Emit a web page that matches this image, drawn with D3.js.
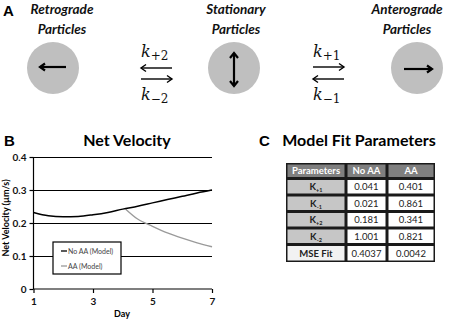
<!DOCTYPE html>
<html>
<head>
<meta charset="utf-8">
<script src="https://cdn.jsdelivr.net/npm/d3@7"></script>
<style>
  body { margin: 0; background: #fff; }
  svg { display: block; font-family: Lato, "Open Sans", sans-serif; }
</style>
</head>
<body>
<div id="chart"></div>
<script>
// panel B data
var days = [1, 1.5, 2, 2.5, 3, 3.5, 4, 4.5, 5, 5.5, 6, 6.5, 7];
var noAA = [0.232, 0.222, 0.219, 0.220, 0.225, 0.232, 0.242, 0.251, 0.261, 0.271, 0.281, 0.291, 0.300];
var aaDays = [4.1, 4.5, 5, 5.5, 6, 6.5, 7];
var aa = [0.242, 0.212, 0.190, 0.170, 0.154, 0.140, 0.128];
var yTicks = [0, 0.1, 0.2, 0.3, 0.4];
var xTicks = [1, 3, 5, 7];
var seriesNames = ["No AA (Model)", "AA (Model)"];

// panel C table
var tableHeader = ["Parameters", "No AA", "AA"];
var paramSubs = ["+1", "-1", "+2", "-2"];
var paramNoAA = ["0.041", "0.021", "0.181", "1.001"];
var paramAA = ["0.401", "0.861", "0.341", "0.821"];
var mseRow = ["MSE Fit", "0.4037", "0.0042"];

// panel A
var particleNames = [["Retrograde", "Particles"], ["Stationary", "Particles"], ["Anterograde", "Particles"]];
var rateLabels = [["+2", "-2"], ["+1", "-1"]];

var svg = d3.select("#chart").append("svg")
    .attr("width", 454)
    .attr("height", 321);

var grey = "#bfbfbf";

//---------------- panel A -----------------//
svg.append("text").attr("x", 3).attr("y", 16)
    .attr("font-size", 15).attr("font-weight", "bold")
    .attr("font-family", "Liberation Sans, Arial, sans-serif")
    .text("A");

var particleX = [{ tx: 62, cx: 53 }, { tx: 236, cx: 234 }, { tx: 407, cx: 417 }];

particleNames.forEach(function(lines, i) {
    var p = particleX[i];
    var g = svg.append("g");
    lines.forEach(function(l, j) {
        g.append("text")
            .attr("x", p.tx).attr("y", 14 + j * 20)
            .attr("text-anchor", "middle")
            .attr("font-size", 13.5).attr("font-weight", "bold").attr("font-style", "italic")
            .attr("fill", "#111")
            .text(l);
    });
    g.append("circle").attr("cx", p.cx).attr("cy", 68).attr("r", 26).attr("fill", grey);
});

// arrow with open head
function arrow(x1, x2, y, dir, head) {
    var g = svg.append("g").attr("stroke", "#000").attr("fill", "none")
        .attr("stroke-width", head ? 2.2 : 1.4);
    g.append("line").attr("x1", x1).attr("x2", x2).attr("y1", y).attr("y2", y);
    var tip = dir > 0 ? x2 : x1;
    var h = head || 5;
    g.append("path")
        .attr("d", "M" + (tip - dir * h) + "," + (y - h * 0.7) + " L" + tip + "," + y + " L" + (tip - dir * h) + "," + (y + h * 0.7));
}

arrow(40, 66, 67, -1, 5);
arrow(404, 432, 69, 1, 5);
// stationary up/down arrow
var va = svg.append("g").attr("stroke", "#000").attr("fill", "none").attr("stroke-width", 2.2);
va.append("line").attr("x1", 234).attr("x2", 234).attr("y1", 53).attr("y2", 86);
va.append("path").attr("d", "M230,58 L234,53 L238,58");
va.append("path").attr("d", "M230,81 L234,86 L238,81");

// rate constants
var rateX = [141, 313];
rateLabels.forEach(function(pair, i) {
    var x = rateX[i];
    pair.forEach(function(sub, j) {
        var t = svg.append("text")
            .attr("x", x).attr("y", j == 0 ? 57 : 100)
            .attr("font-family", "DejaVu Serif, serif")
            .attr("font-size", 16).attr("fill", "#111");
        t.append("tspan").attr("font-style", "italic").text("k");
        t.append("tspan").attr("font-size", 12).attr("dy", 3).text(sub.replace("-", "\u2212"));
    });
    if (i == 0) {
        arrow(141, 172, 68, -1);
        arrow(141, 172, 79, 1);
    } else {
        arrow(313, 344, 67, 1);
        arrow(313, 344, 79, -1);
    }
});

//---------------- panel B -----------------//
svg.append("text").attr("x", 4).attr("y", 146)
    .attr("font-size", 15).attr("font-weight", "bold")
    .attr("font-family", "Liberation Sans, Arial, sans-serif")
    .text("B");
svg.append("text").attr("x", 127).attr("y", 146)
    .attr("text-anchor", "middle")
    .attr("font-size", 16).attr("font-weight", "bold")
    .text("Net Velocity");

var x = d3.scaleLinear().domain([1, 7]).range([33.5, 212]);
var y = d3.scaleLinear().domain([0, 0.4]).range([289, 157]);

// gridlines
svg.append("g").selectAll("line").data(yTicks.slice(1)).join("line")
    .attr("x1", x(1)).attr("x2", x(7))
    .attr("y1", function(d) { return Math.round(y(d)) + 0.5; })
    .attr("y2", function(d) { return Math.round(y(d)) + 0.5; })
    .attr("stroke", "#000").attr("stroke-width", 1.2);

var yAxis = svg.append("g").attr("transform", "translate(" + x(1) + ",0)")
    .call(d3.axisLeft(y).tickValues(yTicks).tickSize(4).tickFormat(function(d) { return d == 0 ? "0" : d3.format(".1f")(d); }));
var xAxis = svg.append("g").attr("transform", "translate(0," + y(0) + ")")
    .call(d3.axisBottom(x).tickValues(xTicks).tickSize(4).tickFormat(d3.format("d")));

[yAxis, xAxis].forEach(function(a) {
    a.select(".domain").attr("stroke", "#000").attr("stroke-width", 1.2);
    a.selectAll(".tick line").attr("stroke", "#000").attr("stroke-width", 1.2);
    a.selectAll(".tick text").attr("font-family", "Lato, sans-serif")
        .attr("font-size", 10).attr("font-weight", "bold").attr("fill", "#111");
});
yAxis.select(".domain").attr("d", "M0," + y(0) + "V" + y(0.4));
xAxis.select(".domain").attr("d", "M" + x(1) + ",0H" + x(7));
xAxis.selectAll(".tick text").attr("y", 9);

svg.append("text").attr("x", 122).attr("y", 317)
    .attr("text-anchor", "middle").attr("font-size", 9).attr("font-weight", "bold")
    .text("Day");
svg.append("text")
    .attr("transform", "translate(9,218) rotate(-90)")
    .attr("text-anchor", "middle").attr("font-size", 9).attr("font-weight", "bold")
    .text("Net Velocity (\u00b5m/s)");

var line = d3.line()
    .x(function(d) { return x(d[0]); })
    .y(function(d) { return y(d[1]); })
    .curve(d3.curveMonotoneX);

svg.append("path").datum(d3.zip(aaDays, aa))
    .attr("d", line).attr("fill", "none")
    .attr("stroke", "#9a9a9a").attr("stroke-width", 1.3);
svg.append("path").datum(d3.zip(days, noAA))
    .attr("d", line).attr("fill", "none")
    .attr("stroke", "#000").attr("stroke-width", 1.5);

// legend
var lg = svg.append("g").attr("transform", "translate(53,242)");
lg.append("rect").attr("width", 68).attr("height", 32)
    .attr("fill", "#fff").attr("stroke", "#000").attr("stroke-width", 1.2);
seriesNames.forEach(function(n, i) {
    var yy = 9 + i * 15;
    lg.append("line").attr("x1", 8).attr("x2", 14).attr("y1", yy).attr("y2", yy)
        .attr("stroke", i == 0 ? "#000" : "#9a9a9a").attr("stroke-width", 1.3);
    lg.append("text").attr("x", 15).attr("y", yy + 2.5)
        .attr("font-size", 7).attr("fill", "#444").text(n);
});

//---------------- panel C -----------------//
svg.append("text").attr("x", 259).attr("y", 146)
    .attr("font-size", 15).attr("font-weight", "bold")
    .attr("font-family", "Liberation Sans, Arial, sans-serif")
    .text("C");
svg.append("text").attr("x", 359).attr("y", 146)
    .attr("text-anchor", "middle")
    .attr("font-size", 16).attr("font-weight", "bold")
    .text("Model Fit Parameters");

var colX = [286, 346, 387, 435];
var rowY = [163, 178.5, 195, 211.5, 228, 244.5, 262];

var tbl = svg.append("g");
tbl.append("rect").attr("x", colX[0]).attr("y", rowY[0])
    .attr("width", colX[3] - colX[0]).attr("height", rowY[6] - rowY[0])
    .attr("fill", "#1a1a1a");

var rows = [tableHeader];
paramSubs.forEach(function(s, i) { rows.push([s, paramNoAA[i], paramAA[i]]); });
rows.push(mseRow);

rows.forEach(function(r, ri) {
    r.forEach(function(v, ci) {
        var fill = "#fff";
        if (ri == 0) fill = "#7f7f7f";
        else if (ci == 0 && ri < 5) fill = "#c6c6c6";
        else if (ci == 0) fill = "#f2f2f2";
        var x0 = colX[ci], x1 = colX[ci + 1], y0 = rowY[ri], y1 = rowY[ri + 1];
        tbl.append("rect")
            .attr("x", x0 + 1.5).attr("y", y0 + 1.5)
            .attr("width", x1 - x0 - 3).attr("height", y1 - y0 - 3)
            .attr("fill", fill);
        var t = tbl.append("text")
            .attr("x", (x0 + x1) / 2).attr("y", (y0 + y1) / 2 + 3.5)
            .attr("text-anchor", "middle")
            .attr("font-size", 9.5)
            .attr("fill", ri == 0 ? "#fff" : "#222");
        if (ri == 0) t.attr("font-weight", "bold").text(v);
        else if (ci == 0 && ri < 5) {
            t.attr("font-weight", "bold");
            t.append("tspan").text("K");
            t.append("tspan").attr("font-size", 5.5).attr("dy", 2).text(v);
        } else if (ci == 0) t.attr("font-weight", "bold").text(v);
        else t.text(v);
    });
});
</script>
</body>
</html>
